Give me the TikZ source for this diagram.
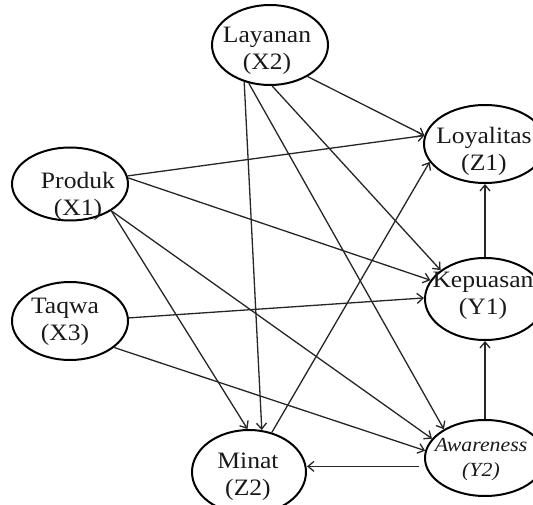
\documentclass[tikz,border=0pt]{standalone}
\usepackage{fontspec}
\setmainfont{Liberation Serif}[FakeStretch=1.09]
\usetikzlibrary{shapes.geometric,arrows.meta}
\begin{document}
\begin{tikzpicture}[x=1pt,y=-1pt,
  ell/.style={draw=black, line width=2pt, ellipse, inner sep=0pt},
  lbl/.style={align=center, inner sep=0pt, text=black!90, font=\fontsize{23.5}{27}\selectfont},
  ilbl/.style={align=center, inner sep=0pt, text=black!90, font=\fontsize{20}{25}\selectfont\itshape},
  conn/.style={draw=black!85, line width=1.3pt, -{Straight Barb[length=6pt,width=10pt,line width=1.3pt]}}
]
\useasboundingbox (0,0) rectangle (533,505);
\clip (0,0) rectangle (533,505);
% ellipses
\node[ell, minimum width=116pt, minimum height=80pt] (lay) at (270,45) {};
\node[ell, minimum width=116pt, minimum height=73pt] (pro) at (70,184) {};
\node[ell, minimum width=116pt, minimum height=78pt] (taq) at (70,321) {};
\node[ell, minimum width=122pt, minimum height=78pt] (loy) at (485,144) {};
\node[ell, minimum width=120pt, minimum height=82pt] (kep) at (485,299) {};
\node[ell, minimum width=120pt, minimum height=76pt] (awa) at (485,458) {};
\node[ell, minimum width=114pt, minimum height=84pt] (min) at (249,472) {};
% texts
\node[lbl] (layt) at (267,51) {Layanan\\(X2)};
\node[lbl] (prot) at (78,196) {Produk\\(X1)};
\node[lbl] (taqt) at (65,322) {Taqwa\\(X3)};
\node[lbl] (loyt) at (484,151) {Loyalitas\\(Z1)};
\node[lbl] (kept) at (483,296) {Kepuasan\\(Y1)};
\node[ilbl] (awat) at (481,460) {Awareness\\(Y2)};
\node[lbl] (mint) at (248,477) {Minat\\(Z2)};
% connectors
\draw[conn] (lay.-40) -- (loy.172);
\draw[conn] (pro.8) -- (loy.172);
\draw[conn] (pro.6) -- (kep.161);
\draw[conn] (lay.-87) -- (kep.147);
\draw[conn] (taq.3) -- (kep.179);
\draw[conn] (kep.90) -- (loy.-90);
\draw[conn] (awa.90) -- (kep.-90);
\draw[conn, shorten <=6pt] (awa.188) -- (awa.188 -| min.east);
\draw[conn] (min.60) -- (loy.-162);
\draw[conn] (lay.-125) -- (min.73.5);
\draw[conn] (pro.-33.7) -- (min.92.6);
\draw[conn] (pro.-33.7) -- (awa.160);
\draw[conn] (taq.-31) -- (awa.173);
\draw[conn] (lay.-119) -- (awa.145);
\end{tikzpicture}
\end{document}
